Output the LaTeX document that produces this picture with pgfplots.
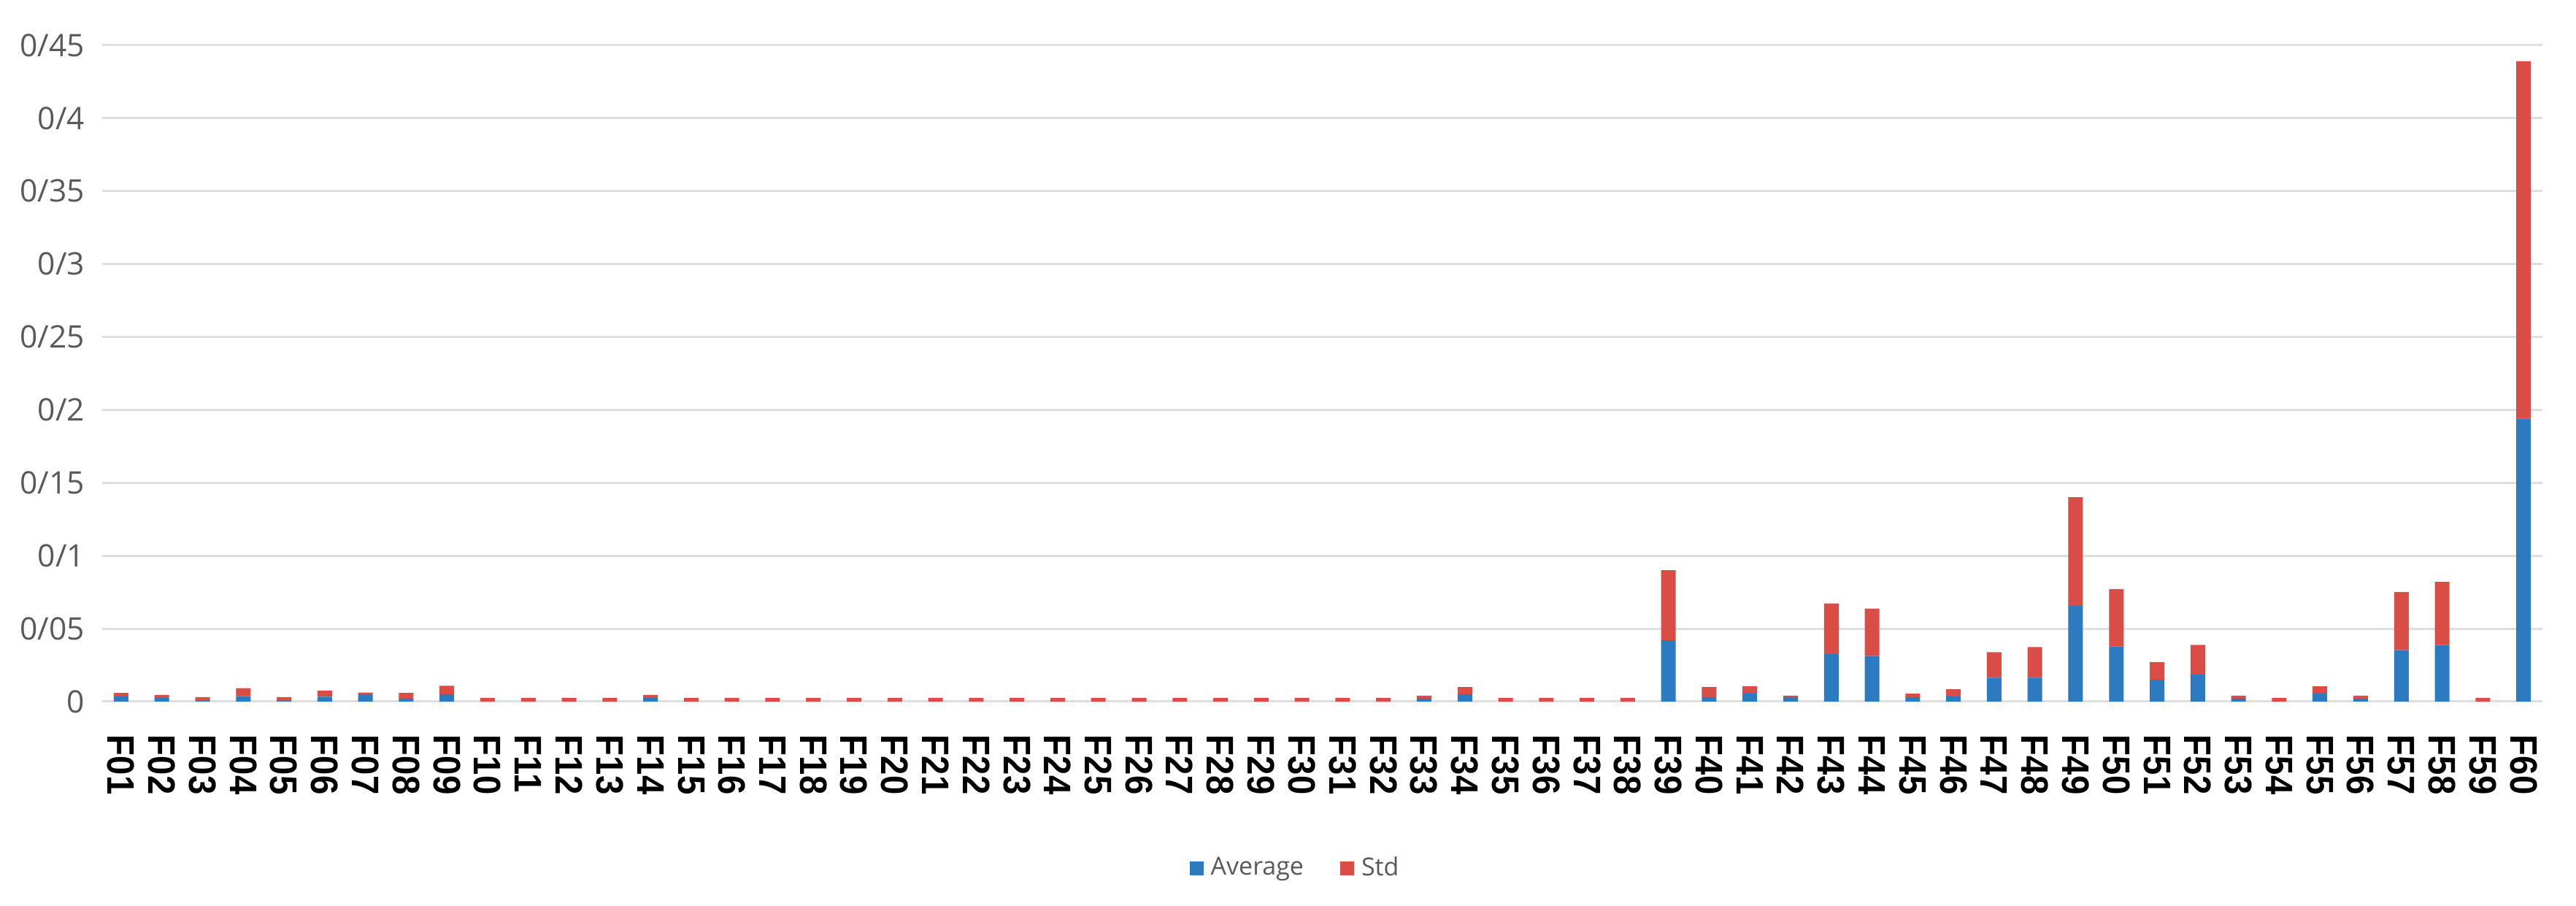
\documentclass[border=0pt]{standalone}
\usepackage{fontspec}
\setmainfont{Open Sans}
\newfontfamily\xlfont{Liberation Sans}
\usepackage{graphicx}
\usepackage{pgfplots}
\usepackage{pgfplotstable}
\pgfplotsset{compat=1.18}

\definecolor{avgblue}{RGB}{44,122,192}
\definecolor{stdred}{RGB}{218,76,70}
\definecolor{gridgray}{RGB}{222,222,222}
\definecolor{txtgray}{RGB}{89,89,89}

% slightly condensed bold category label
\newcommand{\xl}[1]{\scalebox{0.9}[1]{#1}}

% x  average  std
\pgfplotstableread{
x avg std
1 0.0035 0.0025
2 0.0025 0.0020
3 0.0005 0.0025
4 0.0037 0.0055
5 0.0005 0.0025
6 0.0033 0.0042
7 0.0045 0.0017
8 0.0020 0.0040
9 0.0050 0.0058
10 0 0.0025
11 0 0.0025
12 0 0.0025
13 0 0.0025
14 0.0025 0.0020
15 0 0.0025
16 0 0.0025
17 0 0.0025
18 0 0.0025
19 0 0.0025
20 0 0.0025
21 0 0.0025
22 0 0.0025
23 0 0.0025
24 0 0.0025
25 0 0.0025
26 0 0.0025
27 0 0.0025
28 0 0.0025
29 0 0.0025
30 0 0.0025
31 0 0.0025
32 0 0.0025
33 0.0020 0.0020
34 0.0050 0.0050
35 0 0.0025
36 0 0.0025
37 0 0.0025
38 0 0.0025
39 0.0420 0.0480
40 0.0030 0.0070
41 0.0054 0.0050
42 0.0030 0.0010
43 0.0325 0.0347
44 0.0312 0.0325
45 0.0030 0.0025
46 0.0035 0.0050
47 0.0163 0.0176
48 0.0163 0.0211
49 0.0656 0.0745
50 0.0379 0.0393
51 0.0149 0.0122
52 0.0184 0.0204
53 0.0020 0.0020
54 0 0.0025
55 0.0054 0.0050
56 0.0020 0.0020
57 0.0352 0.0400
58 0.0388 0.0433
59 0 0.0025
60 0.1940 0.2450
}\datatable

\begin{document}
\begin{tikzpicture}
\begin{axis}[
  scale only axis,
  width=668.6pt, height=179.8pt,
  ybar stacked, bar width=4pt,
  xmin=0.535, xmax=60.465,
  ymin=0, ymax=0.45,
  axis line style={draw=none},
  major tick length=0pt,
  ymajorgrids, grid style={gridgray, line width=0.6pt},
  ytick={0,0.05,0.1,0.15,0.2,0.25,0.3,0.35,0.4,0.45},
  yticklabels={0,0/05,0/1,0/15,0/2,0/25,0/3,0/35,0/4,0/45},
  yticklabel style={font=\fontsize{8.5}{10}\selectfont, text=txtgray, inner sep=0pt, anchor=east},
  yticklabel shift=4.6pt,
  xtick={1,...,60},
  xticklabels={\xl{F01},\xl{F02},\xl{F03},\xl{F04},\xl{F05},\xl{F06},\xl{F07},\xl{F08},\xl{F09},\xl{F10},
    \xl{F11},\xl{F12},\xl{F13},\xl{F14},\xl{F15},\xl{F16},\xl{F17},\xl{F18},\xl{F19},\xl{F20},
    \xl{F21},\xl{F22},\xl{F23},\xl{F24},\xl{F25},\xl{F26},\xl{F27},\xl{F28},\xl{F29},\xl{F30},
    \xl{F31},\xl{F32},\xl{F33},\xl{F34},\xl{F35},\xl{F36},\xl{F37},\xl{F38},\xl{F39},\xl{F40},
    \xl{F41},\xl{F42},\xl{F43},\xl{F44},\xl{F45},\xl{F46},\xl{F47},\xl{F48},\xl{F49},\xl{F50},
    \xl{F51},\xl{F52},\xl{F53},\xl{F54},\xl{F55},\xl{F56},\xl{F57},\xl{F58},\xl{F59},\xl{F60}},
  xticklabel style={font=\xlfont\bfseries\fontsize{10.5}{12}\selectfont, text=black,
    rotate=-90, anchor=west, inner sep=0pt},
  xticklabel shift=9pt,
  legend style={draw=none, fill=none, at={(axis description cs:0.49,0)}, anchor=center,
    yshift=-45.8pt, legend columns=2, font=\fontsize{6.8}{8}\selectfont, text=txtgray,
    /tikz/every even column/.append style={column sep=8pt}},
  legend image code/.code={\fill[#1] (0pt,-1.9pt) rectangle (3.8pt,1.9pt);},
]
\addplot[fill=avgblue, draw=none] table[x=x, y=avg] {\datatable};
\addplot[fill=stdred, draw=none] table[x=x, y=std] {\datatable};
\legend{Average, Std}
\end{axis}
\path ([xshift=-28pt, yshift=-56pt]current axis.south west) rectangle ([xshift=9.2pt, yshift=12.4pt]current axis.north east);
\end{tikzpicture}
\end{document}
